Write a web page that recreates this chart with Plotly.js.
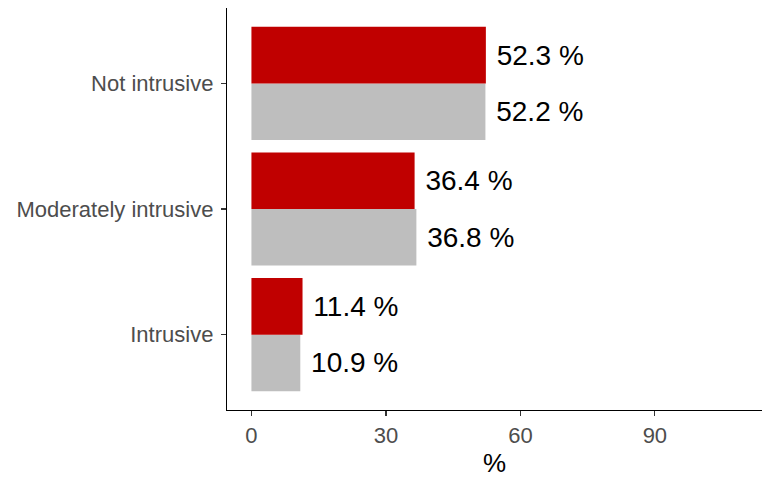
<!DOCTYPE html>
<html>
<head>
<meta charset="utf-8">
<script src="https://cdn.plot.ly/plotly-3.0.1.min.js"></script>
<style>html,body{margin:0;padding:0;background:#fff;}#chart{width:762px;height:478px;}</style>
</head>
<body>
<div id="chart"></div>
<script>
var categories = ['Intrusive', 'Moderately intrusive', 'Not intrusive'];
var redValues = [11.4, 36.4, 52.3];
var greyValues = [10.9, 36.8, 52.2];
var xTickValues = [0, 30, 60, 90];

var font = 'Liberation Sans, Arial, sans-serif';

function barTrace(name, values, color) {
  return {
    type: 'bar',
    orientation: 'h',
    name: name,
    y: categories,
    x: values,
    marker: {color: color, line: {width: 0}},
    text: values.map(function (v) { return '\u00a0' + v.toFixed(1) + ' %'; }),
    texttemplate: '%{text}',
    textposition: 'outside',
    constraintext: 'none',
    cliponaxis: false,
    textfont: {family: font, size: 28, color: '#000000'},
    hoverinfo: 'skip'
  };
}

var data = [
  barTrace('Grey', greyValues, '#BEBEBE'),
  barTrace('Red', redValues, '#C00000')
];

var layout = {
  width: 762,
  height: 478,
  margin: {l: 227, r: 0, t: 8, b: 68, pad: 0},
  paper_bgcolor: '#ffffff',
  plot_bgcolor: '#ffffff',
  showlegend: false,
  barmode: 'group',
  bargap: 0.1,
  bargroupgap: 0,
  font: {family: font},
  xaxis: {
    range: [-5.45, 113.9],
    tickvals: xTickValues,
    ticktext: xTickValues.map(String),
    showgrid: false,
    zeroline: false,
    showline: true,
    linecolor: '#000000',
    linewidth: 1.2,
    ticks: 'outside',
    ticklen: 5,
    tickwidth: 1.2,
    tickcolor: '#333333',
    tickfont: {family: font, size: 22, color: '#4D4D4D'},
    title: {text: '%', font: {family: font, size: 26, color: '#000000'}, standoff: 11},
    automargin: false
  },
  yaxis: {
    type: 'category',
    categoryorder: 'array',
    categoryarray: categories,
    range: [-0.6, 2.6],
    showgrid: false,
    zeroline: false,
    showline: true,
    linecolor: '#000000',
    linewidth: 1.2,
    ticks: 'outside',
    ticklen: 5,
    tickwidth: 1.2,
    tickcolor: '#333333',
    ticklabelstandoff: 3,
    tickfont: {family: font, size: 22, color: '#4D4D4D'},
    automargin: false
  }
};

Plotly.newPlot('chart', data, layout, {displayModeBar: false, staticPlot: true});
</script>
</body>
</html>
